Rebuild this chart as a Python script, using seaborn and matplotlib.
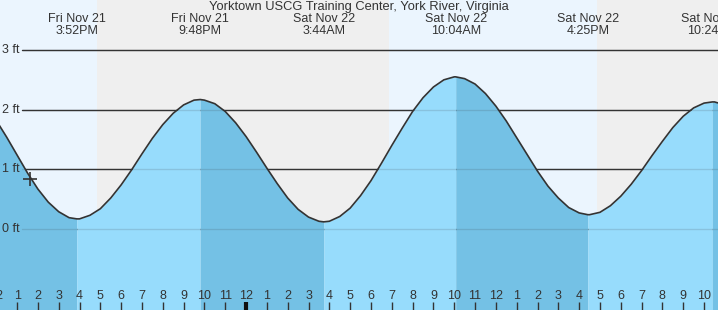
import numpy as np
import pandas as pd
import matplotlib
matplotlib.use("Agg")
import matplotlib.pyplot as plt
import seaborn as sns
from matplotlib.transforms import blended_transform_factory

# ---------------- data (hours relative to midnight Fri Nov 21 / Sat Nov 22) ----------------
title = "Yorktown USCG Training Center, York River, Virginia"

sample_hours = list(np.arange(-12.0, 23.01, 0.5))
sample_heights = [
    1.82, 1.54, 1.24, 0.94, 0.67, 0.45, 0.29, 0.19,
    0.17, 0.23, 0.34, 0.52, 0.74, 0.99, 1.26, 1.52, 1.75, 1.94, 2.08, 2.16,
    2.16, 2.10, 1.97, 1.78, 1.55, 1.29, 1.02, 0.76, 0.52, 0.33, 0.20, 0.13,
    0.13, 0.21, 0.35, 0.56, 0.81, 1.10, 1.40, 1.69, 1.97, 2.20, 2.38, 2.50, 2.55,
    2.52, 2.43, 2.27, 2.06, 1.81, 1.53, 1.25, 0.97, 0.72, 0.52, 0.36, 0.27,
    0.24, 0.28, 0.39, 0.55, 0.75, 0.98, 1.23, 1.47, 1.70, 1.89, 2.03, 2.11,
    2.13, 2.08,
]

extreme_hours = [-8.13, -2.20, 3.73, 10.07, 16.42, 22.40]
extreme_heights = [0.17, 2.17, 0.12, 2.55, 0.24, 2.13]
extreme_dates = ["Fri Nov 21", "Fri Nov 21", "Sat Nov 22", "Sat Nov 22", "Sat Nov 22", "Sat Nov 22"]
extreme_times = ["3:52PM", "9:48PM", "3:44AM", "10:04AM", "4:25PM", "10:24PM"]

sun_events = [-7.16, 6.87, 16.86]       # sunset, sunrise, sunset
y_ticks = [0, 1, 2, 3]
hour_ticks = list(range(-12, 23))
now_hour, now_height = -10.37, 0.84

# ---------------- styling ----------------
sns.set_theme(style="white")
plt.rcParams["font.family"] = ["Liberation Sans", "DejaVu Sans"]

TXT = "#333333"
DAY = "#ebf5fe"
NIGHT = "#efefef"
FALL = "#74c1e5"
RISE = "#97dcfc"

X0, X1 = -11.82, 22.67
Y0, Y1 = -1.357, 3.838

fig = plt.figure(figsize=(7.18, 3.10), dpi=100)
ax = fig.add_axes([0, 0, 1, 1])
ax.set_xlim(X0, X1)
ax.set_ylim(Y0, Y1)
ax.set_axis_off()

# day / night background
edges = [X0] + sun_events + [X1]
for i in range(len(edges) - 1):
    ax.axvspan(edges[i], edges[i + 1], color=DAY if i % 2 == 0 else NIGHT, lw=0, zorder=0)

# grid lines
for v in y_ticks:
    ax.axhline(v, xmin=22 / 718, xmax=1, color=TXT, lw=1, zorder=1)

# tide data
df = pd.concat([
    pd.DataFrame({"t": sample_hours, "h": sample_heights}),
    pd.DataFrame({"t": extreme_hours, "h": extreme_heights}),
]).sort_values("t").drop_duplicates("t").reset_index(drop=True)

# fills by tide phase
bounds = [df.t.min()] + extreme_hours + [df.t.max()]
for a, b in zip(bounds[:-1], bounds[1:]):
    seg = df[(df.t >= a) & (df.t <= b)]
    falling = seg.h.iloc[-1] < seg.h.iloc[0]
    ax.fill_between(seg.t, seg.h, Y0, color=FALL if falling else RISE, lw=0, zorder=2)

# faint grid through fill
for v in y_ticks:
    ax.axhline(v, xmin=22 / 718, xmax=1, color=TXT, lw=1, alpha=0.15, zorder=3)

sns.lineplot(data=df, x="t", y="h", color=TXT, lw=1.2, ax=ax, zorder=5)
ax.set_axis_off()

ax.plot([now_hour], [now_height], marker="+", ms=10, mew=1.2, color=TXT, zorder=6)

# y labels
ty = blended_transform_factory(ax.transAxes, ax.transData)
for v in y_ticks:
    ax.text(2 / 718, v, f"{v} ft", transform=ty, ha="left", va="center",
            fontsize=9, color=TXT, zorder=7)

# top labels
tx = blended_transform_factory(ax.transData, ax.transAxes)
for t, d, tm in zip(extreme_hours, extreme_dates, extreme_times):
    ax.text(t, 1 - 19.5 / 310, d, transform=tx, ha="center", va="center", fontsize=9, color=TXT)
    ax.text(t, 1 - 31.5 / 310, tm, transform=tx, ha="center", va="center", fontsize=9, color=TXT)

ax.text(0.5, 1 - 7 / 310, title, transform=ax.transAxes, ha="center", va="center",
        fontsize=9.3, color=TXT)

# bottom hour ticks
for t in hour_ticks:
    lab = str(t % 12 if t % 12 else 12)
    ax.text(t, 14 / 310, lab, transform=tx, ha="center", va="center", fontsize=9, color=TXT, zorder=7)
    ax.plot([t, t], [0, 8 / 310], transform=tx, color=TXT if t else "#111111",
            lw=3 if t == 0 else 1, solid_capstyle="butt", zorder=7)

fig.savefig("out.png", dpi=100)
